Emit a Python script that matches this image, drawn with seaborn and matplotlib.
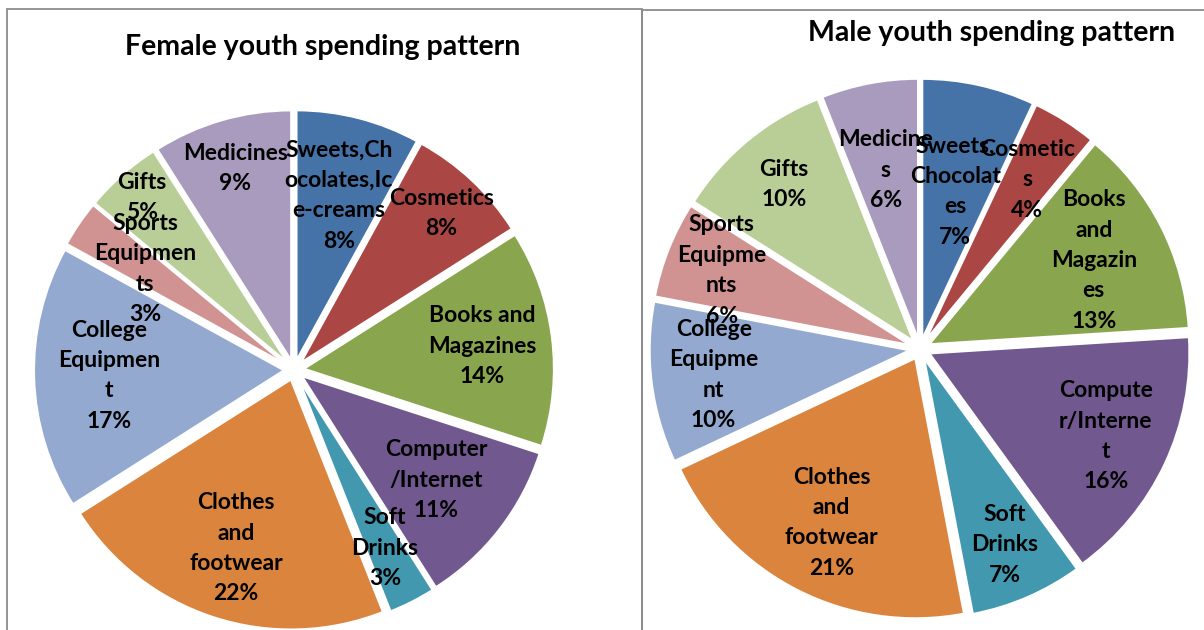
import matplotlib
matplotlib.use("Agg")
import numpy as np
import matplotlib.pyplot as plt
from matplotlib.patches import Rectangle
import seaborn as sns

# ---------------- data ----------------
female_title = "Female youth spending pattern"
male_title = "Male youth spending pattern"

female_names = ["Sweets,Ch\nocolates,Ic\ne-creams", "Cosmetics", "Books and\nMagazines",
                "Computer\n/Internet", "Soft\nDrinks", "Clothes\nand\nfootwear",
                "College\nEquipmen\nt", "Sports\nEquipmen\nts", "Gifts", "Medicines"]
female_values = [8, 8, 14, 11, 3, 22, 17, 3, 5, 9]

male_names = ["Sweets,\nChocolat\nes", "Cosmetic\ns", "Books\nand\nMagazin\nes",
              "Compute\nr/Interne\nt", "Soft\nDrinks", "Clothes\nand\nfootwear",
              "College\nEquipme\nnt", "Sports\nEquipme\nnts", "Gifts", "Medicine\ns"]
male_values = [7, 4, 13, 16, 7, 21, 10, 6, 10, 6]

slice_colors = ["#4572A7", "#AA4643", "#89A54E", "#71588F", "#4198AF",
                "#DB843D", "#93A9CF", "#D19392", "#B9CD96", "#A99BBD"]

# label radial placement (fraction of radius), mimicking the reference's best-fit labels
female_label_r = [0.68, 0.82, 0.72, 0.68, 0.76, 0.71, 0.70, 0.68, 0.88, 0.80]
male_label_r = [0.58, 0.73, 0.71, 0.75, 0.78, 0.71, 0.76, 0.78, 0.78, 0.66]

# ---------------- style ----------------
sns.set_theme(style="white")
plt.rcParams["font.family"] = ["Lato", "DejaVu Sans"]
palette = sns.color_palette(slice_colors)

W, H = 1204, 630
fig = plt.figure(figsize=(W / 100, H / 100), dpi=100)
fig.patch.set_facecolor("white")


def add_border(x0, y0, x1, y1):
    fig.patches.append(Rectangle((x0 / W, 1 - y1 / H), (x1 - x0) / W, (y1 - y0) / H,
                                 transform=fig.transFigure, fill=False,
                                 edgecolor="#8c8c8c", linewidth=1.3, clip_on=False))


add_border(7, 9, 642, 660)
add_border(642, 10, 1240, 660)


def draw_pie(cx, cy, unit, names, values, label_r, title, tx, ty):
    L = 1.3
    size = 2 * L * unit
    ax = fig.add_axes([(cx - L * unit) / W, (H - cy - L * unit) / H, size / W, size / H])
    labels = [f"{n}\n{v}%" for n, v in zip(names, values)]
    wedges, texts = ax.pie(values, labels=labels, colors=palette, startangle=90,
                           counterclock=False, explode=[0.04] * len(values),
                           labeldistance=0.72,
                           wedgeprops=dict(edgecolor="white", linewidth=1.5),
                           textprops=dict(fontsize=16.5, fontweight="bold", color="black"))
    for w, t, d in zip(wedges, texts, label_r):
        ang = np.deg2rad((w.theta1 + w.theta2) / 2)
        x0, y0 = w.center
        t.set_position((x0 + d * w.r * np.cos(ang), y0 + d * w.r * np.sin(ang)))
        t.set_ha("center")
        t.set_va("center")
        t.set_linespacing(1.55)
    ax.set_xlim(-L, L)
    ax.set_ylim(-L, L)
    ax.set_aspect("equal")
    ax.axis("off")
    fig.text(tx / W, 1 - ty / H, title, ha="center", va="center",
             fontsize=20.5, fontweight="bold", color="black")


draw_pie(294, 370, 250, female_names, female_values, female_label_r, female_title, 323, 47)
draw_pie(920, 349, 260, male_names, male_values, male_label_r, male_title, 992, 33)

fig.savefig("out.png", dpi=100, facecolor="white")
